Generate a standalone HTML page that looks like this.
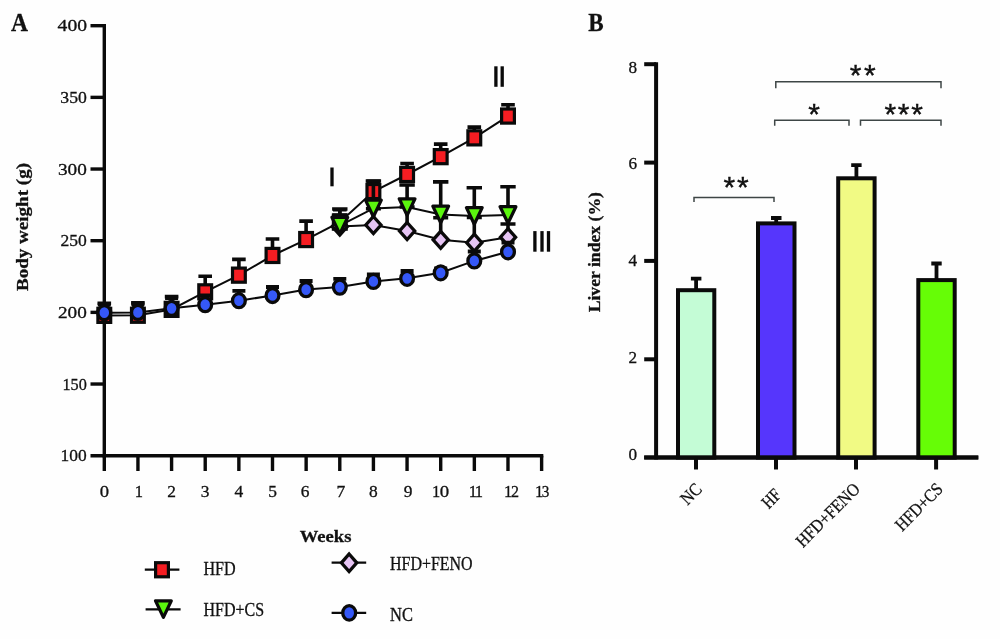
<!DOCTYPE html>
<html><head><meta charset="utf-8"><title>Figure</title>
<style>
html,body{margin:0;padding:0;background:#fefefe;}
svg{display:block;will-change:transform;font-family:"Liberation Serif",serif;}
</style></head>
<body>
<svg width="1000" height="639" viewBox="0 0 1000 639">
<rect width="1000" height="639" fill="#fefefe"/>
<g stroke="#0a0a0a" stroke-width="3.4" fill="none" stroke-linecap="butt">
<path d="M104.3 24.0 V457.4"/>
<path d="M90.5 455.7 H543.32"/>
<path d="M90.5 384.03 H104.3"/>
<path d="M90.5 312.37 H104.3"/>
<path d="M90.5 240.70 H104.3"/>
<path d="M90.5 169.03 H104.3"/>
<path d="M90.5 97.37 H104.3"/>
<path d="M90.5 25.70 H104.3"/>
<path d="M104.30 455.7 V471"/>
<path d="M137.94 455.7 V471"/>
<path d="M171.58 455.7 V471"/>
<path d="M205.22 455.7 V471"/>
<path d="M238.86 455.7 V471"/>
<path d="M272.50 455.7 V471"/>
<path d="M306.14 455.7 V471"/>
<path d="M339.78 455.7 V471"/>
<path d="M373.42 455.7 V471"/>
<path d="M407.06 455.7 V471"/>
<path d="M440.70 455.7 V471"/>
<path d="M474.34 455.7 V471"/>
<path d="M507.98 455.7 V471"/>
<path d="M541.62 455.7 V471"/>
</g>
<text x="87.0" y="31.29999999999999" font-size="16.5" text-anchor="end" font-weight="normal" fill="#111" textLength="29.4" lengthAdjust="spacingAndGlyphs" stroke="#111" stroke-width="0.3">400</text>
<text x="86.8" y="102.96666666666667" font-size="16.5" text-anchor="end" font-weight="normal" fill="#111" textLength="26.5" lengthAdjust="spacingAndGlyphs" stroke="#111" stroke-width="0.3">350</text>
<text x="86.8" y="174.6333333333333" font-size="16.5" text-anchor="end" font-weight="normal" fill="#111" textLength="28.8" lengthAdjust="spacingAndGlyphs" stroke="#111" stroke-width="0.3">300</text>
<text x="86.8" y="246.29999999999998" font-size="16.5" text-anchor="end" font-weight="normal" fill="#111" textLength="26.3" lengthAdjust="spacingAndGlyphs" stroke="#111" stroke-width="0.3">250</text>
<text x="86.8" y="317.9666666666667" font-size="16.5" text-anchor="end" font-weight="normal" fill="#111" textLength="28.8" lengthAdjust="spacingAndGlyphs" stroke="#111" stroke-width="0.3">200</text>
<text x="86.8" y="389.6333333333333" font-size="16.5" text-anchor="end" font-weight="normal" fill="#111" textLength="24.3" lengthAdjust="spacingAndGlyphs" stroke="#111" stroke-width="0.3">150</text>
<text x="86.6" y="461.3" font-size="16.5" text-anchor="end" font-weight="normal" fill="#111" textLength="26.1" lengthAdjust="spacingAndGlyphs" stroke="#111" stroke-width="0.3">100</text>
<text x="104.3" y="496.6" font-size="16.5" text-anchor="middle" font-weight="normal" fill="#111" textLength="9.3" lengthAdjust="spacingAndGlyphs" stroke="#111" stroke-width="0.3">0</text>
<text x="138.8" y="496.6" font-size="16.5" text-anchor="middle" font-weight="normal" fill="#111" stroke="#111" stroke-width="0.3">1</text>
<text x="171.57999999999998" y="496.6" font-size="16.5" text-anchor="middle" font-weight="normal" fill="#111" textLength="8.7" lengthAdjust="spacingAndGlyphs" stroke="#111" stroke-width="0.3">2</text>
<text x="205.22" y="496.6" font-size="16.5" text-anchor="middle" font-weight="normal" fill="#111" textLength="8.7" lengthAdjust="spacingAndGlyphs" stroke="#111" stroke-width="0.3">3</text>
<text x="238.86" y="496.6" font-size="16.5" text-anchor="middle" font-weight="normal" fill="#111" textLength="8.7" lengthAdjust="spacingAndGlyphs" stroke="#111" stroke-width="0.3">4</text>
<text x="272.5" y="496.6" font-size="16.5" text-anchor="middle" font-weight="normal" fill="#111" textLength="8.7" lengthAdjust="spacingAndGlyphs" stroke="#111" stroke-width="0.3">5</text>
<text x="305.0" y="496.6" font-size="16.5" text-anchor="middle" font-weight="normal" fill="#111" textLength="8.7" lengthAdjust="spacingAndGlyphs" stroke="#111" stroke-width="0.3">6</text>
<text x="340.8" y="496.6" font-size="16.5" text-anchor="middle" font-weight="normal" fill="#111" textLength="8.7" lengthAdjust="spacingAndGlyphs" stroke="#111" stroke-width="0.3">7</text>
<text x="373.42" y="496.6" font-size="16.5" text-anchor="middle" font-weight="normal" fill="#111" textLength="8.7" lengthAdjust="spacingAndGlyphs" stroke="#111" stroke-width="0.3">8</text>
<text x="408.2" y="496.6" font-size="16.5" text-anchor="middle" font-weight="normal" fill="#111" textLength="8.7" lengthAdjust="spacingAndGlyphs" stroke="#111" stroke-width="0.3">9</text>
<text x="432.0" y="496.6" font-size="16.5" text-anchor="start" font-weight="normal" fill="#111" stroke="#111" stroke-width="0.3">1</text>
<text x="439.8" y="496.6" font-size="16.5" text-anchor="start" font-weight="normal" fill="#111" textLength="9.4" lengthAdjust="spacingAndGlyphs" stroke="#111" stroke-width="0.3">0</text>
<text x="468.8" y="496.6" font-size="16.5" text-anchor="start" font-weight="normal" fill="#111" stroke="#111" stroke-width="0.3">1</text>
<text x="474.7" y="496.6" font-size="16.5" text-anchor="start" font-weight="normal" fill="#111" stroke="#111" stroke-width="0.3">1</text>
<text x="504.0" y="496.6" font-size="16.5" text-anchor="start" font-weight="normal" fill="#111" stroke="#111" stroke-width="0.3">1</text>
<text x="511.0" y="496.6" font-size="16.5" text-anchor="start" font-weight="normal" fill="#111" textLength="8.0" lengthAdjust="spacingAndGlyphs" stroke="#111" stroke-width="0.3">2</text>
<text x="534.9" y="496.6" font-size="16.5" text-anchor="start" font-weight="normal" fill="#111" stroke="#111" stroke-width="0.3">1</text>
<text x="541.8" y="496.6" font-size="16.5" text-anchor="start" font-weight="normal" fill="#111" textLength="7.6" lengthAdjust="spacingAndGlyphs" stroke="#111" stroke-width="0.3">3</text>
<text x="28" y="227" font-size="17.5" text-anchor="middle" font-weight="bold" fill="#111" textLength="128" lengthAdjust="spacingAndGlyphs" transform="rotate(-90 28 227)" stroke="#111" stroke-width="0.3">Body weight (g)</text>
<text x="299.8" y="541.5" font-size="17.5" text-anchor="start" font-weight="bold" fill="#111" textLength="51.6" lengthAdjust="spacingAndGlyphs" stroke="#111" stroke-width="0.3">Weeks</text>
<text x="11" y="31" font-size="26" text-anchor="start" font-weight="bold" fill="#111" textLength="17" lengthAdjust="spacingAndGlyphs" stroke="#111" stroke-width="0.3">A</text>
<polyline points="104.3,315.4 137.9,315.3 171.6,309.4 205.2,291.8 238.9,275.2 272.5,255.5 306.1,239.6 339.8,222.2 373.4,191.6 407.1,174.5 440.7,156.7 474.3,137.8 508.0,116.1" fill="none" stroke="#0a0a0a" stroke-width="2.05"/>
<path d="M104.3 315.4 V303.2 M97.5 303.2 H111.1" fill="none" stroke="#0a0a0a" stroke-width="3.6"/>
<path d="M137.9 315.3 V302.9 M131.1 302.9 H144.7" fill="none" stroke="#0a0a0a" stroke-width="3.6"/>
<path d="M171.6 309.4 V296.6 M164.8 296.6 H178.4" fill="none" stroke="#0a0a0a" stroke-width="3.6"/>
<path d="M205.2 291.8 V276.3 M198.4 276.3 H212.0" fill="none" stroke="#0a0a0a" stroke-width="3.6"/>
<path d="M238.9 275.2 V259.4 M232.1 259.4 H245.7" fill="none" stroke="#0a0a0a" stroke-width="3.6"/>
<path d="M272.5 255.5 V239.0 M265.7 239.0 H279.3" fill="none" stroke="#0a0a0a" stroke-width="3.6"/>
<path d="M306.1 239.6 V221.1 M299.3 221.1 H312.9" fill="none" stroke="#0a0a0a" stroke-width="3.6"/>
<path d="M339.8 222.2 V209.8 M333.0 209.8 H346.6" fill="none" stroke="#0a0a0a" stroke-width="3.6"/>
<path d="M373.4 191.6 V181.2 M366.6 181.2 H380.2" fill="none" stroke="#0a0a0a" stroke-width="3.6"/>
<path d="M407.1 174.5 V163.5 M400.3 163.5 H413.9" fill="none" stroke="#0a0a0a" stroke-width="3.6"/>
<path d="M440.7 156.7 V144.1 M433.9 144.1 H447.5" fill="none" stroke="#0a0a0a" stroke-width="3.6"/>
<path d="M474.3 137.8 V127.1 M467.5 127.1 H481.1" fill="none" stroke="#0a0a0a" stroke-width="3.6"/>
<path d="M508.0 116.1 V104.7 M501.2 104.7 H514.8" fill="none" stroke="#0a0a0a" stroke-width="3.6"/>
<rect x="97.9" y="308.3" width="12.8" height="14.1" fill="#f51d22" stroke="#0a0a0a" stroke-width="3.2"/>
<rect x="131.5" y="308.2" width="12.8" height="14.1" fill="#f51d22" stroke="#0a0a0a" stroke-width="3.2"/>
<rect x="165.2" y="302.3" width="12.8" height="14.1" fill="#f51d22" stroke="#0a0a0a" stroke-width="3.2"/>
<rect x="198.8" y="284.8" width="12.8" height="14.1" fill="#f51d22" stroke="#0a0a0a" stroke-width="3.2"/>
<rect x="232.5" y="268.1" width="12.8" height="14.1" fill="#f51d22" stroke="#0a0a0a" stroke-width="3.2"/>
<rect x="266.1" y="248.4" width="12.8" height="14.1" fill="#f51d22" stroke="#0a0a0a" stroke-width="3.2"/>
<rect x="299.7" y="232.5" width="12.8" height="14.1" fill="#f51d22" stroke="#0a0a0a" stroke-width="3.2"/>
<rect x="333.4" y="215.1" width="12.8" height="14.1" fill="#f51d22" stroke="#0a0a0a" stroke-width="3.2"/>
<rect x="367.0" y="184.5" width="12.8" height="14.1" fill="#f51d22" stroke="#0a0a0a" stroke-width="3.2"/>
<rect x="400.7" y="167.4" width="12.8" height="14.1" fill="#f51d22" stroke="#0a0a0a" stroke-width="3.2"/>
<rect x="434.3" y="149.6" width="12.8" height="14.1" fill="#f51d22" stroke="#0a0a0a" stroke-width="3.2"/>
<rect x="467.9" y="130.8" width="12.8" height="14.1" fill="#f51d22" stroke="#0a0a0a" stroke-width="3.2"/>
<rect x="501.6" y="109.0" width="12.8" height="14.1" fill="#f51d22" stroke="#0a0a0a" stroke-width="3.2"/>
<polyline points="339.8,226.4 373.4,225.0 407.1,231.0 440.7,239.8 474.3,242.7 508.0,237.2" fill="none" stroke="#0a0a0a" stroke-width="2.05"/>
<path d="M339.8 226.4 V215.0 M332.3 215.0 H347.3" fill="none" stroke="#0a0a0a" stroke-width="3.6"/>
<path d="M373.4 225.0 V208.8 M365.9 208.8 H380.9" fill="none" stroke="#0a0a0a" stroke-width="3.6"/>
<path d="M407.1 231.0 V207.0 M399.6 207.0 H414.6" fill="none" stroke="#0a0a0a" stroke-width="3.6"/>
<path d="M440.7 239.8 V217.8 M433.2 217.8 H448.2" fill="none" stroke="#0a0a0a" stroke-width="3.6"/>
<path d="M474.3 242.7 V217.4 M466.8 217.4 H481.8" fill="none" stroke="#0a0a0a" stroke-width="3.6"/>
<path d="M508.0 237.2 V224.0 M500.5 224.0 H515.5" fill="none" stroke="#0a0a0a" stroke-width="3.6"/>
<path d="M339.8 217.9 L347.4 226.4 L339.8 234.9 L332.2 226.4 Z" fill="#e6c4f4" stroke="#0a0a0a" stroke-width="3.3" stroke-linejoin="miter"/>
<path d="M373.4 216.5 L381.0 225.0 L373.4 233.5 L365.8 225.0 Z" fill="#e6c4f4" stroke="#0a0a0a" stroke-width="3.3" stroke-linejoin="miter"/>
<path d="M407.1 222.5 L414.7 231.0 L407.1 239.5 L399.5 231.0 Z" fill="#e6c4f4" stroke="#0a0a0a" stroke-width="3.3" stroke-linejoin="miter"/>
<path d="M440.7 231.3 L448.3 239.8 L440.7 248.3 L433.1 239.8 Z" fill="#e6c4f4" stroke="#0a0a0a" stroke-width="3.3" stroke-linejoin="miter"/>
<path d="M474.3 234.2 L481.9 242.7 L474.3 251.2 L466.7 242.7 Z" fill="#e6c4f4" stroke="#0a0a0a" stroke-width="3.3" stroke-linejoin="miter"/>
<path d="M508.0 228.7 L515.6 237.2 L508.0 245.7 L500.4 237.2 Z" fill="#e6c4f4" stroke="#0a0a0a" stroke-width="3.3" stroke-linejoin="miter"/>
<polyline points="339.8,225.6 373.4,208.4 407.1,207.1 440.7,214.4 474.3,215.9 508.0,215.0" fill="none" stroke="#0a0a0a" stroke-width="2.05"/>
<path d="M339.8 225.6 V209.0 M332.1 209.0 H347.5" fill="none" stroke="#0a0a0a" stroke-width="3.6"/>
<path d="M373.4 208.4 V181.0 M365.7 181.0 H381.1" fill="none" stroke="#0a0a0a" stroke-width="3.6"/>
<path d="M407.1 207.1 V185.0 M399.4 185.0 H414.8" fill="none" stroke="#0a0a0a" stroke-width="3.6"/>
<path d="M440.7 214.4 V181.9 M433.0 181.9 H448.4" fill="none" stroke="#0a0a0a" stroke-width="3.6"/>
<path d="M474.3 215.9 V187.8 M466.6 187.8 H482.0" fill="none" stroke="#0a0a0a" stroke-width="3.6"/>
<path d="M508.0 215.0 V186.7 M500.3 186.7 H515.7" fill="none" stroke="#0a0a0a" stroke-width="3.6"/>
<path d="M331.9 217.3 H347.7 L339.8 233.9 Z" fill="#5bf70e" stroke="#0a0a0a" stroke-width="3.2" stroke-linejoin="round"/>
<path d="M365.5 200.1 H381.3 L373.4 216.7 Z" fill="#5bf70e" stroke="#0a0a0a" stroke-width="3.2" stroke-linejoin="round"/>
<path d="M399.2 198.8 H415.0 L407.1 215.4 Z" fill="#5bf70e" stroke="#0a0a0a" stroke-width="3.2" stroke-linejoin="round"/>
<path d="M432.8 206.1 H448.6 L440.7 222.7 Z" fill="#5bf70e" stroke="#0a0a0a" stroke-width="3.2" stroke-linejoin="round"/>
<path d="M466.4 207.6 H482.2 L474.3 224.2 Z" fill="#5bf70e" stroke="#0a0a0a" stroke-width="3.2" stroke-linejoin="round"/>
<path d="M500.1 206.7 H515.9 L508.0 223.3 Z" fill="#5bf70e" stroke="#0a0a0a" stroke-width="3.2" stroke-linejoin="round"/>
<polyline points="104.3,312.7 137.9,312.4 171.6,308.3 205.2,304.7 238.9,300.7 272.5,295.5 306.1,289.6 339.8,287.1 373.4,281.4 407.1,278.3 440.7,272.8 474.3,260.9 508.0,251.8" fill="none" stroke="#0a0a0a" stroke-width="2.05"/>
<path d="M104.3 312.7 V304.6 M97.8 304.6 H110.8" fill="none" stroke="#0a0a0a" stroke-width="3.8"/>
<path d="M137.9 312.4 V304.2 M131.4 304.2 H144.4" fill="none" stroke="#0a0a0a" stroke-width="3.8"/>
<path d="M171.6 308.3 V298.0 M165.1 298.0 H178.1" fill="none" stroke="#0a0a0a" stroke-width="3.8"/>
<path d="M205.2 304.7 V295.4 M198.7 295.4 H211.7" fill="none" stroke="#0a0a0a" stroke-width="3.8"/>
<path d="M238.9 300.7 V290.8 M232.4 290.8 H245.4" fill="none" stroke="#0a0a0a" stroke-width="3.8"/>
<path d="M272.5 295.5 V287.0 M266.0 287.0 H279.0" fill="none" stroke="#0a0a0a" stroke-width="3.8"/>
<path d="M306.1 289.6 V281.0 M299.6 281.0 H312.6" fill="none" stroke="#0a0a0a" stroke-width="3.8"/>
<path d="M339.8 287.1 V278.8 M333.3 278.8 H346.3" fill="none" stroke="#0a0a0a" stroke-width="3.8"/>
<path d="M373.4 281.4 V274.3 M366.9 274.3 H379.9" fill="none" stroke="#0a0a0a" stroke-width="3.8"/>
<path d="M407.1 278.3 V271.0 M400.6 271.0 H413.6" fill="none" stroke="#0a0a0a" stroke-width="3.8"/>
<path d="M440.7 272.8 V268.5 M434.2 268.5 H447.2" fill="none" stroke="#0a0a0a" stroke-width="3.8"/>
<path d="M474.3 260.9 V251.5 M467.8 251.5 H480.8" fill="none" stroke="#0a0a0a" stroke-width="3.8"/>
<path d="M508.0 251.8 V242.6 M501.5 242.6 H514.5" fill="none" stroke="#0a0a0a" stroke-width="3.8"/>
<ellipse cx="104.3" cy="312.7" rx="6.4" ry="7.0" fill="#3558f7" stroke="#0a0a0a" stroke-width="3.3"/>
<ellipse cx="137.9" cy="312.4" rx="6.4" ry="7.0" fill="#3558f7" stroke="#0a0a0a" stroke-width="3.3"/>
<ellipse cx="171.6" cy="308.3" rx="6.4" ry="7.0" fill="#3558f7" stroke="#0a0a0a" stroke-width="3.3"/>
<ellipse cx="205.2" cy="304.7" rx="6.4" ry="7.0" fill="#3558f7" stroke="#0a0a0a" stroke-width="3.3"/>
<ellipse cx="238.9" cy="300.7" rx="6.4" ry="7.0" fill="#3558f7" stroke="#0a0a0a" stroke-width="3.3"/>
<ellipse cx="272.5" cy="295.5" rx="6.4" ry="7.0" fill="#3558f7" stroke="#0a0a0a" stroke-width="3.3"/>
<ellipse cx="306.1" cy="289.6" rx="6.4" ry="7.0" fill="#3558f7" stroke="#0a0a0a" stroke-width="3.3"/>
<ellipse cx="339.8" cy="287.1" rx="6.4" ry="7.0" fill="#3558f7" stroke="#0a0a0a" stroke-width="3.3"/>
<ellipse cx="373.4" cy="281.4" rx="6.4" ry="7.0" fill="#3558f7" stroke="#0a0a0a" stroke-width="3.3"/>
<ellipse cx="407.1" cy="278.3" rx="6.4" ry="7.0" fill="#3558f7" stroke="#0a0a0a" stroke-width="3.3"/>
<ellipse cx="440.7" cy="272.8" rx="6.4" ry="7.0" fill="#3558f7" stroke="#0a0a0a" stroke-width="3.3"/>
<ellipse cx="474.3" cy="260.9" rx="6.4" ry="7.0" fill="#3558f7" stroke="#0a0a0a" stroke-width="3.3"/>
<ellipse cx="508.0" cy="251.8" rx="6.4" ry="7.0" fill="#3558f7" stroke="#0a0a0a" stroke-width="3.3"/>
<rect x="330.35" y="167.5" width="3.3" height="18.80000000000001" fill="#0a0a0a"/>
<rect x="494.25" y="66.3" width="3.3" height="20.5" fill="#0a0a0a"/>
<rect x="500.55" y="66.3" width="3.3" height="20.5" fill="#0a0a0a"/>
<rect x="533.25" y="231.1" width="3.3" height="20.599999999999994" fill="#0a0a0a"/>
<rect x="540.35" y="231.1" width="3.3" height="20.599999999999994" fill="#0a0a0a"/>
<rect x="546.85" y="231.1" width="3.3" height="20.599999999999994" fill="#0a0a0a"/>
<path d="M144.8 569.7 H179.4" stroke="#0a0a0a" stroke-width="2.3" fill="none"/>
<rect x="155.6" y="562.7" width="12.8" height="14.1" fill="#f51d22" stroke="#0a0a0a" stroke-width="3.2"/>
<text x="203.4" y="574.7" font-size="18" text-anchor="start" font-weight="normal" fill="#111" textLength="32.2" lengthAdjust="spacingAndGlyphs" stroke="#111" stroke-width="0.3">HFD</text>
<path d="M145.6 609.4 H180.6" stroke="#0a0a0a" stroke-width="2.3" fill="none"/>
<path d="M155.5 600.8 H171.3 L163.4 617.4 Z" fill="#5bf70e" stroke="#0a0a0a" stroke-width="3.2" stroke-linejoin="round"/>
<text x="203.5" y="616.3" font-size="18" text-anchor="start" font-weight="normal" fill="#111" textLength="60.6" lengthAdjust="spacingAndGlyphs" stroke="#111" stroke-width="0.3">HFD+CS</text>
<path d="M331.6 562.7 H366.2" stroke="#0a0a0a" stroke-width="2.3" fill="none"/>
<path d="M349.1 554.0 L356.8 562.8 L349.1 571.6 L341.4 562.8 Z" fill="#e6c4f4" stroke="#0a0a0a" stroke-width="3.3" stroke-linejoin="miter"/>
<text x="390.0" y="569.9" font-size="18" text-anchor="start" font-weight="normal" fill="#111" textLength="82.6" lengthAdjust="spacingAndGlyphs" stroke="#111" stroke-width="0.3">HFD+FENO</text>
<path d="M331.6 612.8 H366.2" stroke="#0a0a0a" stroke-width="2.3" fill="none"/>
<ellipse cx="349.2" cy="612.9" rx="6.45" ry="7.25" fill="#3558f7" stroke="#0a0a0a" stroke-width="3.3"/>
<text x="390.0" y="620.5" font-size="18" text-anchor="start" font-weight="normal" fill="#111" textLength="22.9" lengthAdjust="spacingAndGlyphs" stroke="#111" stroke-width="0.3">NC</text>
<g stroke="#0a0a0a" stroke-width="4" fill="none">
<path d="M656.1 62.3 V459.6"/>
<path d="M644.2 457.6 H978.3"/>
<path d="M644.2 359.3 H656.1"/>
<path d="M644.2 260.9 H656.1"/>
<path d="M644.2 162.6 H656.1"/>
<path d="M644.2 64.2 H656.1"/>
<path d="M696 457.6 V469.5"/>
<path d="M776 457.6 V469.5"/>
<path d="M856 457.6 V469.5"/>
<path d="M936.1 457.6 V469.5"/>
</g>
<text x="637.2" y="460.0" font-size="16.5" text-anchor="end" font-weight="normal" fill="#111" textLength="8.6" lengthAdjust="spacingAndGlyphs" stroke="#111" stroke-width="0.3">0</text>
<text x="637.2" y="362.8" font-size="16.5" text-anchor="end" font-weight="normal" fill="#111" textLength="8.6" lengthAdjust="spacingAndGlyphs" stroke="#111" stroke-width="0.3">2</text>
<text x="637.2" y="265.6" font-size="16.5" text-anchor="end" font-weight="normal" fill="#111" textLength="8.6" lengthAdjust="spacingAndGlyphs" stroke="#111" stroke-width="0.3">4</text>
<text x="637.2" y="168.8" font-size="16.5" text-anchor="end" font-weight="normal" fill="#111" textLength="8.6" lengthAdjust="spacingAndGlyphs" stroke="#111" stroke-width="0.3">6</text>
<text x="637.2" y="72.5" font-size="16.5" text-anchor="end" font-weight="normal" fill="#111" textLength="8.6" lengthAdjust="spacingAndGlyphs" stroke="#111" stroke-width="0.3">8</text>
<path d="M696.1 290.2 V278.6 M690.9 278.6 H701.4" stroke="#0a0a0a" stroke-width="3.8" fill="none"/>
<rect x="678.0" y="290.2" width="36.3" height="167.4" fill="#c4fcd6" stroke="#0a0a0a" stroke-width="4"/>
<path d="M776.2 223.4 V218.0 M771.0 218.0 H781.5" stroke="#0a0a0a" stroke-width="3.8" fill="none"/>
<rect x="758.0" y="223.4" width="36.5" height="234.2" fill="#5636fc" stroke="#0a0a0a" stroke-width="4"/>
<path d="M856.4 178.3 V165.1 M851.2 165.1 H861.6" stroke="#0a0a0a" stroke-width="3.8" fill="none"/>
<rect x="838.2" y="178.3" width="36.4" height="279.3" fill="#f1fa84" stroke="#0a0a0a" stroke-width="4"/>
<path d="M936.5 280.1 V263.5 M931.3 263.5 H941.7" stroke="#0a0a0a" stroke-width="3.8" fill="none"/>
<rect x="918.3" y="280.1" width="36.4" height="177.5" fill="#66fd06" stroke="#0a0a0a" stroke-width="4"/>
<path d="M644.2 457.6 H978.3" stroke="#0a0a0a" stroke-width="4" fill="none"/>
<path d="M694 202.0 V197.5 H774 V202.0" stroke="#3e4646" stroke-width="1.5" fill="none"/>
<path d="M774.7 125.8 V120.3 H849 V125.8" stroke="#3e4646" stroke-width="1.5" fill="none"/>
<path d="M860.5 125.8 V120.3 H941 V125.8" stroke="#3e4646" stroke-width="1.5" fill="none"/>
<path d="M775.8 88.3 V81.8 H941 V88.3" stroke="#3e4646" stroke-width="1.5" fill="none"/>
<text x="729.35 742.85" y="197.2" font-size="30" text-anchor="middle" fill="#111" stroke="#111" stroke-width="0.4" style="font-family:'Liberation Sans',sans-serif">**</text>
<text x="814.00" y="124.2" font-size="30" text-anchor="middle" fill="#111" stroke="#111" stroke-width="0.4" style="font-family:'Liberation Sans',sans-serif">*</text>
<text x="890.25 903.70 917.15" y="124.2" font-size="30" text-anchor="middle" fill="#111" stroke="#111" stroke-width="0.4" style="font-family:'Liberation Sans',sans-serif">***</text>
<text x="855.65 869.75" y="85.2" font-size="30" text-anchor="middle" fill="#111" stroke="#111" stroke-width="0.4" style="font-family:'Liberation Sans',sans-serif">**</text>
<text x="588.2" y="31" font-size="26" text-anchor="start" font-weight="bold" fill="#111" textLength="15.4" lengthAdjust="spacingAndGlyphs" stroke="#111" stroke-width="0.3">B</text>
<text x="599.6" y="252.2" font-size="17.5" text-anchor="middle" font-weight="bold" fill="#111" textLength="120.2" lengthAdjust="spacingAndGlyphs" transform="rotate(-90 599.6 252.2)" stroke="#111" stroke-width="0.3">Liver index (%)</text>
<text x="703" y="490.2" font-size="18" text-anchor="end" fill="#111" stroke="#111" stroke-width="0.3" textLength="22" lengthAdjust="spacingAndGlyphs" transform="rotate(-45 703 490.2)">NC</text>
<text x="782.2" y="496.0" font-size="18" text-anchor="end" fill="#111" stroke="#111" stroke-width="0.3" textLength="19" lengthAdjust="spacingAndGlyphs" transform="rotate(-45 782.2 496.0)">HF</text>
<text x="861" y="490.2" font-size="18" text-anchor="end" fill="#111" stroke="#111" stroke-width="0.3" textLength="82" lengthAdjust="spacingAndGlyphs" transform="rotate(-45 861 490.2)">HFD+FENO</text>
<text x="944" y="490.2" font-size="18" text-anchor="end" fill="#111" stroke="#111" stroke-width="0.3" textLength="59" lengthAdjust="spacingAndGlyphs" transform="rotate(-45 944 490.2)">HFD+CS</text>
</svg>
</body></html>
